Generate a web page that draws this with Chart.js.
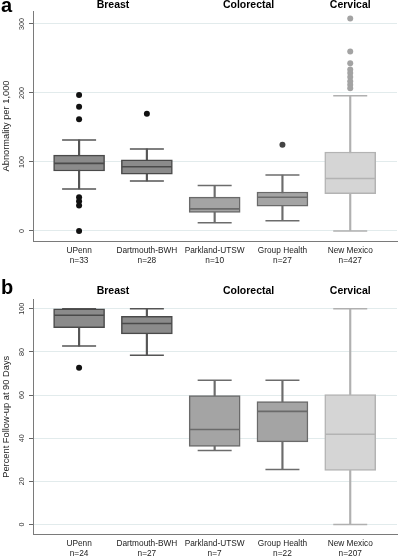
<!DOCTYPE html>
<html><head><meta charset="utf-8">
<script src="https://cdn.jsdelivr.net/npm/chart.js@4/dist/chart.umd.min.js"></script>
<style>
html,body{margin:0;padding:0;background:#fff;}
#wrap{position:relative;width:399px;height:558px;overflow:hidden;}
canvas{position:absolute;left:0;}
</style></head><body>
<div id="wrap">
<canvas id="ca" width="399" height="270" style="top:0;width:399px;height:270px"></canvas>
<canvas id="cb" width="399" height="288" style="top:270px;width:399px;height:288px"></canvas>
</div>
<script>
// ---- data ----
const sites = ['UPenn', 'Dartmouth-BWH', 'Parkland-UTSW', 'Group Health', 'New Mexico'];
const groups = ['Breast', 'Colorectal', 'Cervical'];
const groupPos = [0.5, 2.5, 4];
const siteStyle = [0, 0, 1, 1, 2];

// Panel a: Abnormality per 1,000
const nA = [33, 28, 10, 27, 427];
const aLow = [61, 72.5, 12, 15, 0];
const aQ1 = [87, 82.5, 27, 36, 54];
const aMed = [98, 93, 32, 49, 76];
const aQ3 = [110, 103, 49, 56.5, 114.5];
const aHigh = [132, 119, 66, 81, 196];
const aOutSite = [0, 0, 0, 0, 0, 0, 0, 1, 3, 4, 4, 4, 4, 4, 4, 4, 4, 4];
const aOutVal = [197, 180, 162, 49, 43, 37, 0, 170, 125, 308, 260, 243, 234, 229, 223, 217, 212, 207];
const aTicks = [0, 100, 200, 300];

// Panel b: Percent follow-up at 90 days
const nB = [24, 27, 7, 22, 207];
const bLow = [82.7, 78.5, 34.3, 25.5, 0];
const bQ1 = [91.2, 88.4, 36.2, 38.3, 25];
const bMed = [97, 93.2, 44, 52.4, 41.8];
const bQ3 = [100, 96.5, 59.7, 57, 60.2];
const bHigh = [100, 100, 66.8, 66.8, 100];
const bOutSite = [0];
const bOutVal = [72.6];
const bTicks = [0, 20, 40, 60, 80, 100];

// ---- styles ----
const FAM = '"Liberation Sans", Arial, Helvetica, sans-serif';
Chart.defaults.font.family = FAM;
const boxFill = ['#8b8b8b', '#a4a4a4', '#d5d5d5'];
const boxBorder = ['#4a4a4a', '#6a6a6a', '#b3b3b3'];
const whiskCol = ['#555555', '#6c6c6c', '#b0b0b0'];
const outCol = ['#111111', '#444444', '#a3a3a3'];

const labelPlugin = {
  id: 'panelLabels',
  afterDraw(chart, args, opts) {
    const ctx = chart.ctx, y = chart.scales.y;
    ctx.save();
    ctx.fillStyle = '#333';
    ctx.font = '7.2px ' + FAM;
    ctx.textAlign = 'center';
    ctx.textBaseline = 'middle';
    y.ticks.forEach(t => {
      const py = y.getPixelForValue(t.value);
      ctx.save();
      ctx.translate(opts.tx, py);
      ctx.rotate(-Math.PI / 2);
      ctx.fillText(String(t.value), 0, 0);
      ctx.restore();
    });
    ctx.fillStyle = '#000';
    ctx.font = 'bold 20px ' + FAM;
    ctx.textAlign = 'left';
    ctx.textBaseline = 'alphabetic';
    ctx.fillText(opts.letter, opts.lx, opts.ly);
    ctx.restore();
  }
};

function zeroPad(ax) {
  ax.paddingLeft = 0; ax.paddingRight = 0; ax.paddingTop = 0; ax.paddingBottom = 0;
}

function makePanel(id, p) {
  const st = i => siteStyle[i];
  const datasets = [
    { type: 'scatter', label: 'median', order: 0, xAxisID: 'x', yAxisID: 'y',
      data: p.med.map((v, i) => ({x: i, y: v})),
      pointStyle: 'line', pointRadius: 25, pointBorderWidth: 1.6,
      pointBorderColor: p.med.map((v, i) => boxBorder[st(i)]) },
    { type: 'scatter', label: 'outliers', order: 0, xAxisID: 'x', yAxisID: 'y',
      data: p.outSite.map((s, k) => ({x: s, y: p.outVal[k]})),
      pointStyle: 'circle', pointRadius: 3, pointBorderWidth: 0,
      pointBackgroundColor: p.outSite.map(s => outCol[st(s)]) },
    { type: 'bar', label: 'box', order: 1, xAxisID: 'x', yAxisID: 'y', grouped: false,
      data: p.q1.map((v, i) => ({x: i, y: [v, p.q3[i]]})),
      backgroundColor: p.q1.map((v, i) => boxFill[st(i)]),
      borderColor: p.q1.map((v, i) => boxBorder[st(i)]),
      borderWidth: 1.5, borderSkipped: false, barThickness: 51 },
    { type: 'bar', label: 'whisker', order: 2, xAxisID: 'x', yAxisID: 'y', grouped: false,
      data: p.lo.map((v, i) => ({x: i, y: [v, p.hi[i]]})),
      backgroundColor: p.lo.map((v, i) => whiskCol[st(i)]),
      borderWidth: 0, barThickness: 1.5 },
    { type: 'scatter', label: 'caps', order: 2, xAxisID: 'x', yAxisID: 'y',
      data: p.lo.map((v, i) => ({x: i, y: v})).concat(p.hi.map((v, i) => ({x: i, y: v}))),
      pointStyle: 'line', pointRadius: 17, pointBorderWidth: 1.5,
      pointBorderColor: p.lo.map((v, i) => whiskCol[st(i)]).concat(p.hi.map((v, i) => whiskCol[st(i)])) }
  ];
  const xMin = -0.68, xMax = 4.69;
  return new Chart(document.getElementById(id), {
    type: 'bar',
    data: { datasets },
    plugins: [labelPlugin],
    options: {
      responsive: false, animation: false, events: [],
      layout: { autoPadding: false, padding: { left: 0, right: 2, top: 0, bottom: 0 } },
      plugins: { legend: { display: false }, tooltip: { enabled: false },
        panelLabels: { letter: p.letter, lx: 1, ly: p.letterY, tx: 22 } },
      scales: {
        x: { type: 'linear', position: 'bottom', min: xMin, max: xMax, offset: false,
          afterBuildTicks: ax => { ax.ticks = sites.map((s, i) => ({value: i})); },
          afterFit: ax => { ax.height = p.bottomH; zeroPad(ax); },
          grid: { display: true, drawOnChartArea: false, drawTicks: false, color: 'rgba(0,0,0,0)' },
          border: { display: true, color: '#7a7a7a', width: 1 },
          ticks: { autoSkip: false, maxRotation: 0, minRotation: 0, padding: 4, color: '#222',
            font: { size: 8.3, lineHeight: 1.27 },
            callback: v => [sites[v], 'n=' + p.n[v]] } },
        xTop: { type: 'linear', position: 'top', min: xMin, max: xMax, offset: false,
          afterBuildTicks: ax => { ax.ticks = groupPos.map(v => ({value: v})); },
          afterFit: ax => { ax.height = p.topH; zeroPad(ax); },
          grid: { display: false, drawTicks: false },
          border: { display: false },
          ticks: { autoSkip: false, maxRotation: 0, minRotation: 0, padding: p.topPad, color: '#000',
            font: { size: 10.5, weight: 'bold' },
            callback: v => groups[groupPos.indexOf(v)] } },
        y: { type: 'linear', position: 'left', min: p.yMin, max: p.yMax,
          afterBuildTicks: ax => { ax.ticks = p.ticks.map(v => ({value: v})); },
          afterFit: ax => { ax.width = 33; zeroPad(ax); },
          grid: { color: '#e2ebec', lineWidth: 1, drawTicks: true, tickLength: 4, tickColor: '#666', tickWidth: 1 },
          border: { display: true, color: '#7a7a7a', width: 1 },
          ticks: { display: false },
          title: { display: true, text: p.title, color: '#222', font: { size: 9.3 }, padding: { top: 1, bottom: 0 } } }
      }
    }
  });
}

makePanel('ca', { letter: 'a', letterY: 12, n: nA, lo: aLow, q1: aQ1, med: aMed, q3: aQ3, hi: aHigh,
  outSite: aOutSite, outVal: aOutVal, ticks: aTicks, yMin: -14.5, yMax: 318.8,
  title: 'Abnormality per 1,000', topH: 11, bottomH: 29, topPad: 0 });
makePanel('cb', { letter: 'b', letterY: 24, n: nB, lo: bLow, q1: bQ1, med: bMed, q3: bQ3, hi: bHigh,
  outSite: bOutSite, outVal: bOutVal, ticks: bTicks, yMin: -4.6, yMax: 104.4,
  title: 'Percent Follow-up at 90 Days', topH: 29.3, bottomH: 23.7, topPad: 1.5 });
</script>
</body></html>
